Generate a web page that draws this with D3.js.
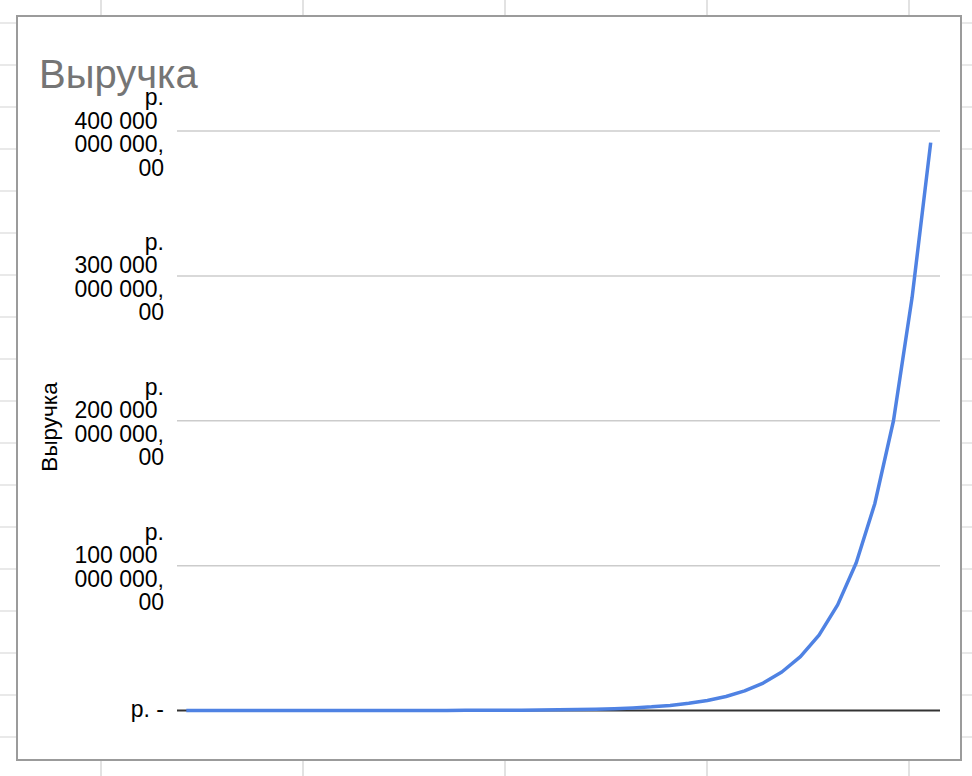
<!DOCTYPE html>
<html>
<head>
<meta charset="utf-8">
<script src="https://cdn.jsdelivr.net/npm/d3@7/dist/d3.min.js"></script>
<style>
  html, body { margin: 0; padding: 0; background: #fff; }
  svg { display: block; font-family: "Liberation Sans", Arial, sans-serif; }
</style>
</head>
<body>
<svg id="chart" width="972" height="776"></svg>
<script>
// ---- data ----
const title = "Выручка";
const yAxisTitle = "Выручка";
const categories = [1,2,3,4,5,6,7,8,9,10,11,12,13,14,15,16,17,18,19,20,21,22,23,24,25,26,27,28,29,30,31,32,33,34,35,36,37,38,39,40,41];
// revenue, billions of roubles
const revenueBn = [0.00056,0.0008,0.0011,0.0015,0.0022,0.0030,0.0042,0.0059,0.0083,0.0116,
  0.0162,0.0227,0.0317,0.0444,0.062,0.087,0.122,0.171,0.239,0.335,
  0.468,0.656,0.918,1.29,1.80,2.52,3.53,4.94,6.91,9.68,
  13.55,18.97,26.56,37.19,52.06,72.89,102.0,142.9,200.0,285.0,392.0];
const yTicks = [0, 100, 200, 300, 400];
const yTickLabels = [
  ["р. -"],
  ["р.", "100 000 ", "000 000,", "00"],
  ["р.", "200 000 ", "000 000,", "00"],
  ["р.", "300 000 ", "000 000,", "00"],
  ["р.", "400 000 ", "000 000,", "00"]
];

// ---- layout ----
const svg = d3.select("#chart");
const W = 972, H = 776;
const plot = { left: 177, right: 940, top: 131, bottom: 710.5 };

// spreadsheet background grid
const bg = svg.append("g");
const rowLines = d3.range(23, H, 42);
const colLines = d3.range(101, W, 202);
bg.selectAll("line.r").data(rowLines).join("line")
  .attr("x1", 0).attr("x2", W).attr("y1", d => d).attr("y2", d => d)
  .attr("stroke", "#e2e2e2").attr("stroke-width", 1.5);
bg.selectAll("line.c").data(colLines).join("line")
  .attr("y1", 0).attr("y2", H).attr("x1", d => d).attr("x2", d => d)
  .attr("stroke", "#e2e2e2").attr("stroke-width", 2);

// chart frame
svg.append("rect")
  .attr("x", 17).attr("y", 16).attr("width", 944).attr("height", 744)
  .attr("fill", "#fff").attr("stroke", "#9b9b9b").attr("stroke-width", 2);

// scales
const x = d3.scalePoint().domain(categories).range([plot.left, plot.right]).padding(0.5);
const y = d3.scaleLinear().domain([0, 400]).range([plot.bottom, plot.top]);

// gridlines
svg.append("g").selectAll("line").data(yTicks.filter(d => d !== 0)).join("line")
  .attr("x1", plot.left).attr("x2", plot.right)
  .attr("y1", d => y(d)).attr("y2", d => y(d))
  .attr("stroke", "#cccccc").attr("stroke-width", 1.5);

// y axis with multi-line labels
const yAxis = d3.axisLeft(y).tickValues(yTicks).tickSize(0).tickPadding(13).tickFormat(() => "");
const ax = svg.append("g").attr("transform", `translate(${plot.left},0)`).call(yAxis);
ax.select(".domain").remove();
ax.selectAll(".tick text").each(function(d) {
  const lines = yTickLabels[yTicks.indexOf(d)];
  const t = d3.select(this)
    .attr("font-size", 23).attr("fill", "#000")
    .attr("font-family", "'Liberation Sans', Arial, sans-serif")
    .attr("text-anchor", "end").attr("dy", null)
    .style("white-space", "pre");
  if (lines.length === 1) {
    t.append("tspan").attr("x", -13).attr("y", 6).text(lines[0]);
  } else {
    lines.forEach((s, k) => {
      t.append("tspan").attr("x", -13).attr("y", -26.5 + 23.5 * k).text(s);
    });
  }
});

// baseline
svg.append("line")
  .attr("x1", plot.left).attr("x2", plot.right)
  .attr("y1", y(0)).attr("y2", y(0))
  .attr("stroke", "#333").attr("stroke-width", 1.8);

// series line
const line = d3.line().x((d, i) => x(categories[i])).y(d => y(d));
svg.append("path").datum(revenueBn)
  .attr("d", line)
  .attr("fill", "none").attr("stroke", "#4f82e3").attr("stroke-width", 3.5)
  .attr("stroke-linejoin", "round");

// title
svg.append("text")
  .attr("x", 39).attr("y", 88)
  .attr("font-size", 40).attr("fill", "#757575")
  .text(title);

// y axis title
svg.append("text")
  .attr("transform", "translate(57,427) rotate(-90)")
  .attr("text-anchor", "middle")
  .attr("font-size", 22.5).attr("fill", "#000")
  .text(yAxisTitle);
</script>
</body>
</html>
